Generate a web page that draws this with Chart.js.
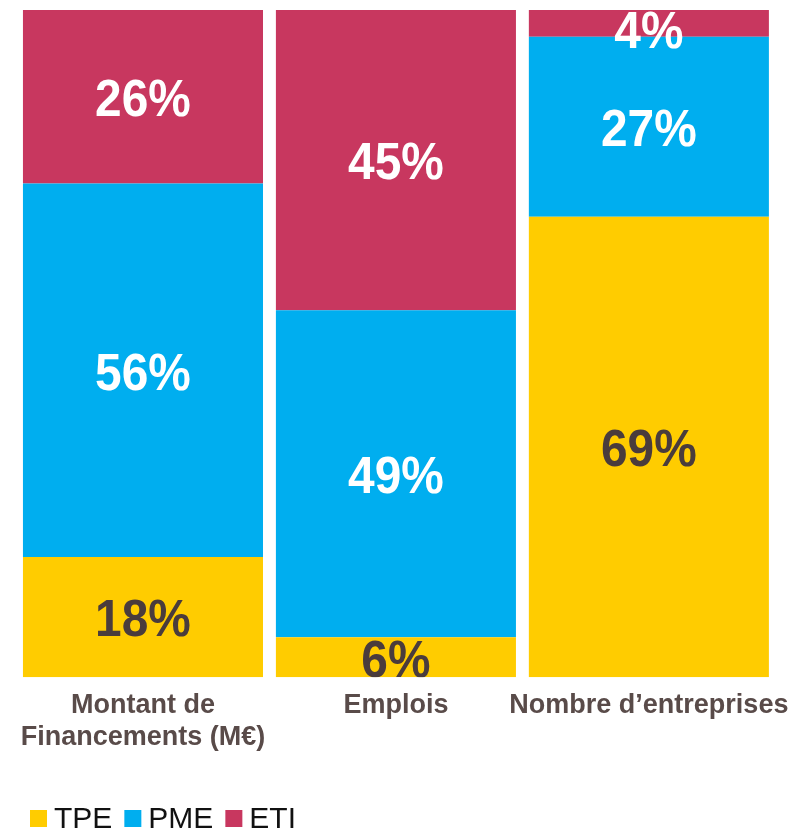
<!DOCTYPE html>
<html>
<head>
<meta charset="utf-8">
<script src="https://cdn.jsdelivr.net/npm/chart.js@4.4.1/dist/chart.umd.min.js"></script>
<style>
  html, body { margin: 0; padding: 0; background: #fff; }
</style>
</head>
<body>
<canvas id="chart" width="805" height="831"></canvas>
<script>
const categories = [['Montant de', 'Financements (M€)'], 'Emplois', 'Nombre d’entreprises'];
const seriesNames = ['TPE', 'PME', 'ETI'];
const tpeValues = [18, 6, 69];
const pmeValues = [56, 49, 27];
const etiValues = [26, 45, 4];
const seriesColors = ['#FFCC00', '#00AEEF', '#C8375F'];
const labelColors = ['#4A3C3C', '#FFFFFF', '#FFFFFF'];

const FONT = '"Liberation Sans", Arial, sans-serif';

// percentage in the middle of each segment, kept inside the plot area
const segmentLabels = {
  id: 'segmentLabels',
  afterDatasetsDraw(chart) {
    const { ctx, chartArea } = chart;
    ctx.save();
    ctx.beginPath();
    ctx.rect(chartArea.left, chartArea.top, chartArea.width, chartArea.height);
    ctx.clip();
    ctx.font = 'bold 52px ' + FONT;
    ctx.textAlign = 'center';
    ctx.textBaseline = 'middle';
    const half = 19;
    chart.data.datasets.forEach((ds, i) => {
      chart.getDatasetMeta(i).data.forEach((bar, j) => {
        let y = (bar.y + bar.base) / 2;
        y = Math.max(y, chartArea.top + half);
        y = Math.min(y, chartArea.bottom - half);
        ctx.save();
        ctx.translate(bar.x, y + 5);
        ctx.scale(0.92, 1);
        ctx.fillStyle = labelColors[i];
        ctx.fillText(ds.data[j] + '%', 0, 0);
        ctx.restore();
      });
    });
    ctx.restore();
  },
};

// small legend: square + name, tight spacing
const bottomLegend = {
  id: 'bottomLegend',
  afterDraw(chart) {
    const { ctx } = chart;
    ctx.save();
    ctx.font = '30px ' + FONT;
    ctx.textBaseline = 'alphabetic';
    ctx.textAlign = 'left';
    let x = 30;
    seriesNames.forEach((name, i) => {
      ctx.fillStyle = seriesColors[i];
      ctx.fillRect(x, 810, 17, 17);
      ctx.fillStyle = '#111111';
      ctx.fillText(name, x + 24, 828);
      x += 24 + ctx.measureText(name).width + 12;
    });
    ctx.restore();
  },
};

new Chart(document.getElementById('chart'), {
  type: 'bar',
  data: {
    labels: categories,
    datasets: [
      { label: seriesNames[0], data: tpeValues, backgroundColor: seriesColors[0] },
      { label: seriesNames[1], data: pmeValues, backgroundColor: seriesColors[1] },
      { label: seriesNames[2], data: etiValues, backgroundColor: seriesColors[2] },
    ],
  },
  options: {
    responsive: false,
    animation: false,
    devicePixelRatio: 1,
    categoryPercentage: 1,
    barPercentage: 0.949,
    layout: { padding: { left: 16.5, right: 27.5, top: 10, bottom: 65 } },
    plugins: {
      legend: { display: false },
      tooltip: { enabled: false },
    },
    scales: {
      x: {
        stacked: true,
        grid: { display: false, drawTicks: false },
        border: { display: false },
        ticks: {
          color: '#594B49',
          padding: 12,
          maxRotation: 0,
          autoSkip: false,
          font: { family: FONT, size: 27, weight: 'bold', lineHeight: 1.2 },
        },
      },
      y: {
        stacked: true,
        display: false,
        min: 0,
        max: 100,
      },
    },
  },
  plugins: [segmentLabels, bottomLegend],
});
</script>
</body>
</html>
